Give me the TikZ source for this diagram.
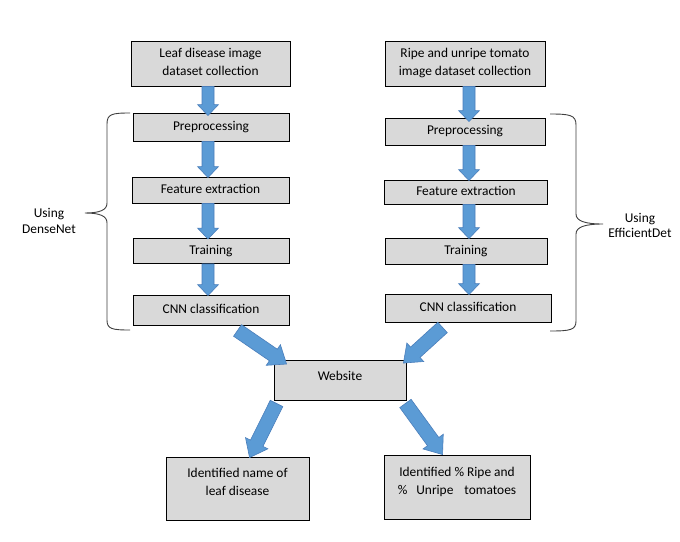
\documentclass[tikz,border=0pt]{standalone}
\usepackage{fontspec}
\setmainfont{Carlito}
\usetikzlibrary{calc}
\definecolor{boxfill}{HTML}{D9D9D9}
\definecolor{arrfill}{HTML}{5B9BD5}
\definecolor{arrline}{HTML}{4A7EBB}
\definecolor{bracecol}{HTML}{404040}
\tikzset{
  box/.style={draw=black, line width=0.9pt, fill=boxfill, inner sep=0pt, align=center,
    font=\fontsize{13.4}{17.7}\selectfont},
  oneline/.style={text height=8pt, text depth=2pt},
  twoline/.style={text height=25.7pt, text depth=2.3pt},
  blockarrow/.style={draw=arrline, line width=0.6pt, fill=arrfill, line join=miter},
  bracestyle/.style={draw=bracecol, line width=0.9pt},
  sidelabel/.style={align=center, inner sep=0pt, font=\fontsize{13.4}{15.5}\selectfont}
}
% #1 tail, #2 tip, #3 half shaft, #4 half head, #5 head length
\newcommand\blockarr[5]{%
  \coordinate (ba-c) at ($(#2)!#5!(#1)$);
  \draw[blockarrow] ($(#1)!#3!90:(#2)$) -- ($(ba-c)!#3!90:(#2)$) -- ($(ba-c)!#4!90:(#2)$)
    -- (#2) -- ($(ba-c)!#4!-90:(#2)$) -- ($(ba-c)!#3!-90:(#2)$) -- ($(#1)!#3!-90:(#2)$) -- cycle;
}
\begin{document}
\begin{tikzpicture}[x=1pt,y=-1pt]
\useasboundingbox (0,0) rectangle (680,541);
\fill[white] (0,0) rectangle (680,541);

% left column
\node[box, twoline, minimum width=159pt, minimum height=45pt] (L1) at (210.5,63.5) {Leaf disease image\\dataset collection};
\node[box, oneline, minimum width=156pt, minimum height=28pt] (L2) at (211,127) {Preprocessing};
\node[box, oneline, minimum width=157pt, minimum height=26pt] (L3) at (210.5,190) {Feature extraction};
\node[box, oneline, minimum width=156pt, minimum height=25pt] (L4) at (211,251) {Training};
\node[box, oneline, minimum width=156pt, minimum height=30pt] (L5) at (211,310) {CNN classification};

% right column
\node[box, twoline, minimum width=160pt, minimum height=45pt] (R1) at (465,63.5) {Ripe and unripe tomato\\image dataset collection};
\node[box, oneline, minimum width=160pt, minimum height=27pt] (R2) at (465,131.5) {Preprocessing};
\node[box, oneline, minimum width=163pt, minimum height=24pt] (R3) at (466,192) {Feature extraction};
\node[box, oneline, minimum width=162pt, minimum height=26pt] (R4) at (466,251) {Training};
\node[box, oneline, minimum width=166pt, minimum height=28pt] (R5) at (468,308) {CNN classification};

% website and results
\node[box, text height=8pt, text depth=9pt, minimum width=132pt, minimum height=40pt] (W) at (340,380.5) {Website};
\node[box, text height=25.7pt, text depth=11.9pt, minimum width=143pt, minimum height=63pt] (B1) at (237.5,488.5) {Identified name of\\leaf disease};
\node[box, text height=25.7pt, text depth=10.9pt, minimum width=146pt, minimum height=64pt] (B2) at (457,487) {Identified \% Ripe and\\\%\hspace{9pt}Unripe\hspace{11pt}tomatoes};

% column axes for vertical arrows
\coordinate (cl) at (208,0);
\coordinate (cr) at (469,0);

% vertical arrows, left
\coordinate (a1t) at (cl |- L1.south); \coordinate (a1h) at ($(cl |- L2.north)+(0,3)$);
\coordinate (a2t) at (cl |- L2.south); \coordinate (a2h) at ($(cl |- L3.north)+(0,1)$);
\coordinate (a3t) at (cl |- L3.south); \coordinate (a3h) at ($(cl |- L4.north)+(0,1)$);
\coordinate (a4t) at (cl |- L4.south); \coordinate (a4h) at ($(cl |- L5.north)+(0,1)$);
\blockarr{a1t}{a1h}{6pt}{10.5pt}{11pt}
\blockarr{a2t}{a2h}{6pt}{10.5pt}{11pt}
\blockarr{a3t}{a3h}{6pt}{10.5pt}{11pt}
\blockarr{a4t}{a4h}{6pt}{10.5pt}{11pt}

% vertical arrows, right
\coordinate (b1t) at (cr |- R1.south); \coordinate (b1h) at ($(cr |- R2.north)+(0,4)$);
\coordinate (b2t) at (cr |- R2.south); \coordinate (b2h) at ($(cr |- R3.north)+(0,1)$);
\coordinate (b3t) at (cr |- R3.south); \coordinate (b3h) at ($(cr |- R4.north)+(0,1)$);
\coordinate (b4t) at (cr |- R4.south); \coordinate (b4h) at ($(cr |- R5.north)+(0,1)$);
\blockarr{b1t}{b1h}{6pt}{10.5pt}{11pt}
\blockarr{b2t}{b2h}{6pt}{10.5pt}{11pt}
\blockarr{b3t}{b3h}{6pt}{10.5pt}{11pt}
\blockarr{b4t}{b4h}{6pt}{10.5pt}{11pt}

% diagonal arrows
\coordinate (d1t) at ($(L5.south west)+(105,5)$); \coordinate (d1h) at ($(W.north west)+(13,4)$);
\coordinate (d2t) at ($(R5.south west)+(58,5)$);  \coordinate (d2h) at ($(W.north east)+(-3,3)$);
\coordinate (d3t) at ($(W.south west)+(3,2.5)$);  \coordinate (d3h) at ($(B1.north west)+(84,1)$);
\coordinate (d4t) at ($(W.south east)+(-1,2.5)$); \coordinate (d4h) at ($(B2.north west)+(59,0)$);
\blockarr{d1t}{d1h}{7pt}{12.5pt}{16pt}
\blockarr{d2t}{d2h}{7pt}{12.5pt}{16pt}
\blockarr{d3t}{d3h}{7pt}{12.5pt}{16pt}
\blockarr{d4t}{d4h}{7pt}{12.5pt}{16pt}

% braces
\draw[bracestyle] (130,113) .. controls (112,113) and (107,114) .. (107,124)
  -- (107,203) .. controls (107,210) and (100,213) .. (85,213)
  .. controls (100,213) and (107,216) .. (107,223)
  -- (107,320) .. controls (107,329) and (112,330) .. (130,330);
\draw[bracestyle] (550,114) .. controls (570,114) and (576,115) .. (576,125)
  -- (576,214) .. controls (576,221) and (585,224) .. (603,224)
  .. controls (585,224) and (576,227) .. (576,234)
  -- (576,321) .. controls (576,330) and (570,331) .. (550,331);

\node[sidelabel] (ld) at (49,221) {Using\\DenseNet};
\node[sidelabel] (le) at (640,225.5) {Using\\EfficientDet};
\end{tikzpicture}
\end{document}
